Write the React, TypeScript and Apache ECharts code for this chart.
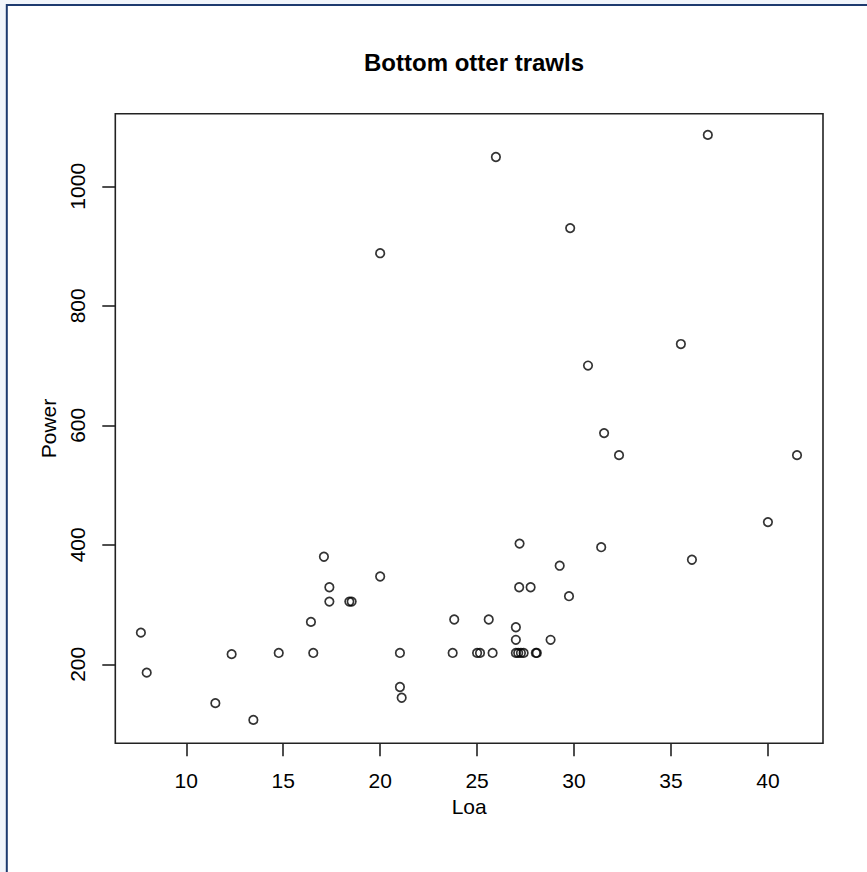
import { useEffect, useRef } from 'react';
import * as echarts from 'echarts';

const chartTitle = 'Bottom otter trawls';
const xName = 'Loa';
const yName = 'Power';

const loa = [
  7.66, 7.96, 11.5, 12.34, 13.46, 14.77, 16.43, 16.55, 17.1, 17.38, 17.38, 18.41, 18.53,
  20.0, 20.0, 21.02, 21.02, 21.11, 23.74, 23.82, 25.0, 25.15, 25.8, 25.6, 25.97,
  27.0, 27.0, 27.0, 27.12, 27.26, 27.4, 27.19, 27.17, 27.76, 28.03, 28.08, 28.79,
  29.26, 29.74, 29.8, 30.72, 31.4, 31.55, 32.32, 35.51, 36.08, 36.9, 40.0, 41.5,
];
const power = [
  253, 186, 135, 217, 107, 219, 271, 219, 380, 329, 305, 305, 305,
  347, 888, 219, 162, 144, 219, 275, 219, 219, 219, 275, 1049,
  262, 241, 219, 219, 219, 219, 402, 329, 329, 219, 219, 241,
  365, 314, 930, 700, 396, 587, 550, 736, 375, 1086, 438, 550,
];

const xTicks = [10, 15, 20, 25, 30, 35, 40];
const yTicks = [200, 400, 600, 800, 1000];
const xRange = [6.34, 42.84];
const yRange = [67.8, 1121.5];

const FONT = '"Liberation Sans", Arial, Helvetica, sans-serif';

export default function App() {
  const ref = useRef<HTMLDivElement>(null);
  useEffect(() => {
    const chart = echarts.init(ref.current!, null, { renderer: 'svg' });
    const points = loa.map((x, i) => [x, power[i]]);
    chart.setOption({
      animation: false,
      backgroundColor: 'transparent',
      graphic: [
        {
          type: 'rect',
          z: -100,
          silent: true,
          shape: { x: 0, y: 0, width: 867, height: 872 },
          style: { fill: '#f1f5fb' },
        },
        {
          type: 'rect',
          z: -99,
          silent: true,
          shape: { x: 6.8, y: 5, width: 900, height: 900 },
          style: { fill: '#ffffff', stroke: '#1d3a6f', lineWidth: 2 },
        },
      ],
      title: {
        text: chartTitle,
        left: 469,
        top: 45,
        textAlign: 'center',
        textStyle: { fontSize: 24, fontWeight: 'bold', color: '#000', fontFamily: FONT },
      },
      grid: {
        show: true,
        left: 115.3,
        top: 113.7,
        width: 707.7,
        height: 629.6,
        borderColor: '#222',
        borderWidth: 1.6,
        backgroundColor: 'transparent',
      },
      xAxis: {
        type: 'value',
        min: xRange[0],
        max: xRange[1],
        name: xName,
        nameLocation: 'middle',
        nameGap: 52,
        nameTextStyle: { fontSize: 21, color: '#000', fontFamily: FONT },
        axisLine: { show: false },
        splitLine: { show: false },
        axisTick: {
          show: true,
          length: 13,
          customValues: xTicks,
          lineStyle: { color: '#222', width: 1.6 },
        },
        axisLabel: {
          customValues: xTicks,
          margin: 27,
          fontSize: 21,
          color: '#000',
          fontFamily: FONT,
          formatter: (v: number) => String(v),
        },
      },
      yAxis: {
        type: 'value',
        min: yRange[0],
        max: yRange[1],
        name: yName,
        nameLocation: 'middle',
        nameGap: 51,
        nameTextStyle: { fontSize: 21, color: '#000', fontFamily: FONT },
        axisLine: { show: false },
        splitLine: { show: false },
        axisTick: {
          show: true,
          length: 13,
          customValues: yTicks,
          lineStyle: { color: '#222', width: 1.6 },
        },
        axisLabel: {
          customValues: yTicks,
          rotate: 90,
          margin: 27,
          fontSize: 21,
          color: '#000',
          fontFamily: FONT,
          formatter: (v: number) => String(v),
        },
      },
      series: [
        {
          type: 'scatter',
          data: points,
          symbol: 'circle',
          symbolSize: 8.5,
          itemStyle: { color: 'rgba(0,0,0,0)', borderColor: '#000', borderWidth: 1.7 },
        },
      ],
    });
    return () => chart.dispose();
  }, []);
  return (
    <div
      ref={ref}
      style={{ position: 'absolute', left: 0, top: 0, width: 867, height: 872 }}
    />
  );
}
